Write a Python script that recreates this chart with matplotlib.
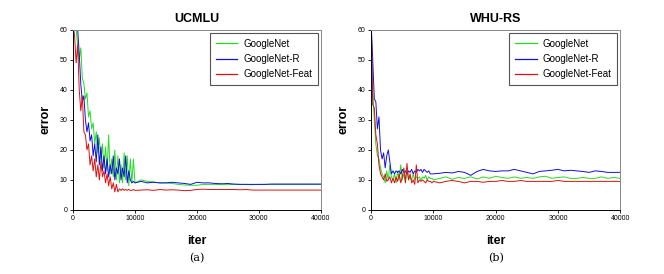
import matplotlib
matplotlib.use('Agg')
import matplotlib.pyplot as plt

plt.rcParams['font.family'] = ['Liberation Sans', 'DejaVu Sans']

# iteration grids (dense start, sparse tail)
iters_dense = list(range(0, 10001, 250))
iters_tail = list(range(11000, 40001, 1000))
iters = iters_dense + iters_tail

# ---- UCMLU ----
ucm_googlenet = [62, 62, 60, 55, 50, 54, 44, 42, 37, 39, 31, 33, 27, 29, 22, 26, 19, 24, 16, 22,
                 14, 21, 13, 25, 12, 17, 11, 20, 10, 18, 9, 15, 9, 19, 10, 18, 8, 17, 9, 17, 9,
                 10, 9.5, 9.3, 9, 9, 8.8, 8.5, 8.3, 8.2, 8.2, 8.5, 8.5, 8.5, 8.4, 8.4, 8.5, 8.5, 8.5,
                 8.4, 8.5, 8.5, 8.5, 8.5, 8.5, 8.5, 8.5, 8.5, 8.5, 8.5, 8.5]
ucm_googlenet_r = [62, 62, 62, 60, 52, 42, 36, 38, 30, 26, 29, 23, 25, 18, 22, 16, 25, 15, 21, 13,
                   18, 12, 17, 11, 15, 12, 18, 10, 14, 12, 17, 10, 14, 11, 18, 9, 13, 10, 9, 9.5, 9,
                   9.5, 9, 9.2, 9, 9, 9.2, 9, 8.8, 8.5, 9.2, 9, 9, 8.8, 8.7, 8.8, 8.6, 8.5, 8.5,
                   8.5, 8.5, 8.5, 8.6, 8.6, 8.6, 8.6, 8.6, 8.6, 8.6, 8.6, 8.6]
ucm_googlenet_feat = [62, 58, 49, 55, 40, 33, 38, 26, 25, 20, 22, 15, 18, 13, 17, 11, 15, 10, 16, 11,
                      13, 9, 12, 8, 11, 7, 9, 6, 8.5, 6, 7, 6.5, 7, 6.5, 6.8, 6.5, 6.8, 6.5, 6.5, 6.8, 6.5,
                      6.6, 6.7, 6.5, 6.8, 6.6, 6.7, 6.6, 6.4, 6.5, 6.8, 6.9, 6.8, 6.8, 6.8, 6.8, 6.8,
                      6.7, 6.8, 6.6, 6.6, 6.6, 6.6, 6.6, 6.6, 6.6, 6.6, 6.6, 6.6, 6.6, 6.6]

# ---- WHU-RS ----
whu_googlenet = [62, 40, 30, 22, 18, 17, 14, 12, 11, 9, 13, 10, 15, 11, 10, 12, 9, 13, 10, 15,
                 10, 12, 9.5, 13, 10, 11, 10, 12, 10, 11, 10.5, 11, 10, 11, 10.5, 11.5, 10, 11, 10.5, 10.5, 10,
                 10.5, 11, 10.2, 10.8, 10.5, 11, 10.3, 11, 10.5, 11.2, 10.8, 10.5, 11, 10.5, 10.8, 10.5,
                 11, 11.2, 10.5, 10.8, 11, 10.5, 10.5, 10.8, 10.5, 10.5, 11, 10.5, 10.8, 10.5]
whu_googlenet_r = [62, 50, 37, 36, 27, 31, 20, 17, 19, 14, 18, 20, 16, 12, 13, 12, 13, 12.5, 13, 12,
                   13.5, 12.5, 13, 12, 13, 12.5, 13.5, 12, 13, 12.5, 13.5, 13, 13.5, 12.5, 13.5, 13, 12.5, 13, 12, 12, 12,
                   12.2, 12.5, 12.3, 12.8, 12.5, 11.5, 12.8, 13.5, 13, 12.8, 13, 13, 13.5, 13, 12.5, 12,
                   12.8, 13, 13.2, 13.5, 13, 13.2, 13, 12.8, 12.5, 13, 12.8, 12.5, 12.5, 12.5]
whu_googlenet_feat = [62, 35, 34, 25, 22, 15, 12, 11, 10, 12, 9.5, 10, 11, 9, 10.5, 9, 11, 9.5, 12, 9,
                      11, 14, 9, 15.5, 10, 12, 9, 10, 8.5, 15, 9, 10, 9.5, 10, 9.5, 9, 10, 9.5, 9.5, 9, 9.5,
                      9, 9.5, 9.8, 9.5, 9, 9.5, 9.5, 9.2, 9.5, 9.5, 9.8, 9.5, 9.5, 9.8, 9.5, 9.5,
                      9.5, 9.5, 9.5, 9.8, 9.5, 9.5, 9.5, 9.5, 9.5, 9.5, 9.5, 9.5, 9.5, 9.5]

labels = ['GoogleNet', 'GoogleNet-R', 'GoogleNet-Feat']
colors = ['#22dd22', '#1010dd', '#dd1010']

fig = plt.figure(figsize=(6.64, 2.74), dpi=100)
ax1 = fig.add_axes([0.110, 0.234, 0.373, 0.657])
ax2 = fig.add_axes([0.559, 0.234, 0.375, 0.657])

panels = [
    (ax1, 'UCMLU', '(a)', [ucm_googlenet, ucm_googlenet_r, ucm_googlenet_feat]),
    (ax2, 'WHU-RS', '(b)', [whu_googlenet, whu_googlenet_r, whu_googlenet_feat]),
]

for ax, title, tag, series in panels:
    for ys, lab, c in zip(series, labels, colors):
        ax.plot(iters, ys, color=c, lw=0.7, label=lab)
    ax.set_xlim(0, 40000)
    ax.set_ylim(0, 60)
    ax.set_xticks([0, 10000, 20000, 30000, 40000])
    ax.set_yticks([0, 10, 20, 30, 40, 50, 60])
    ax.tick_params(labelsize=5, length=2, width=0.6, pad=2, direction='out')
    for s in ['top', 'right']:
        ax.spines[s].set_color('#888888')
    for s in ['left', 'bottom']:
        ax.spines[s].set_color('black')
    for s in ax.spines.values():
        s.set_linewidth(0.7)
    ax.set_title(title, fontsize=9, fontweight='bold', pad=6)
    ax.set_xlabel('iter', fontsize=9, fontweight='bold', labelpad=9)
    ax.set_ylabel('error', fontsize=9, fontweight='bold', labelpad=6)
    leg = ax.legend(loc='upper right', fontsize=7, fancybox=False, framealpha=1,
                    edgecolor='#555555', handlelength=2.2, borderpad=0.6,
                    labelspacing=0.55, handletextpad=0.6, borderaxespad=0.3)
    leg.get_frame().set_linewidth(0.8)
    for h in leg.get_lines():
        h.set_linewidth(0.9)
    ax.text(0.5, -0.267, tag, transform=ax.transAxes, ha='center', va='center',
            fontsize=8, family='DejaVu Serif')

fig.savefig('out.png', dpi=100)
